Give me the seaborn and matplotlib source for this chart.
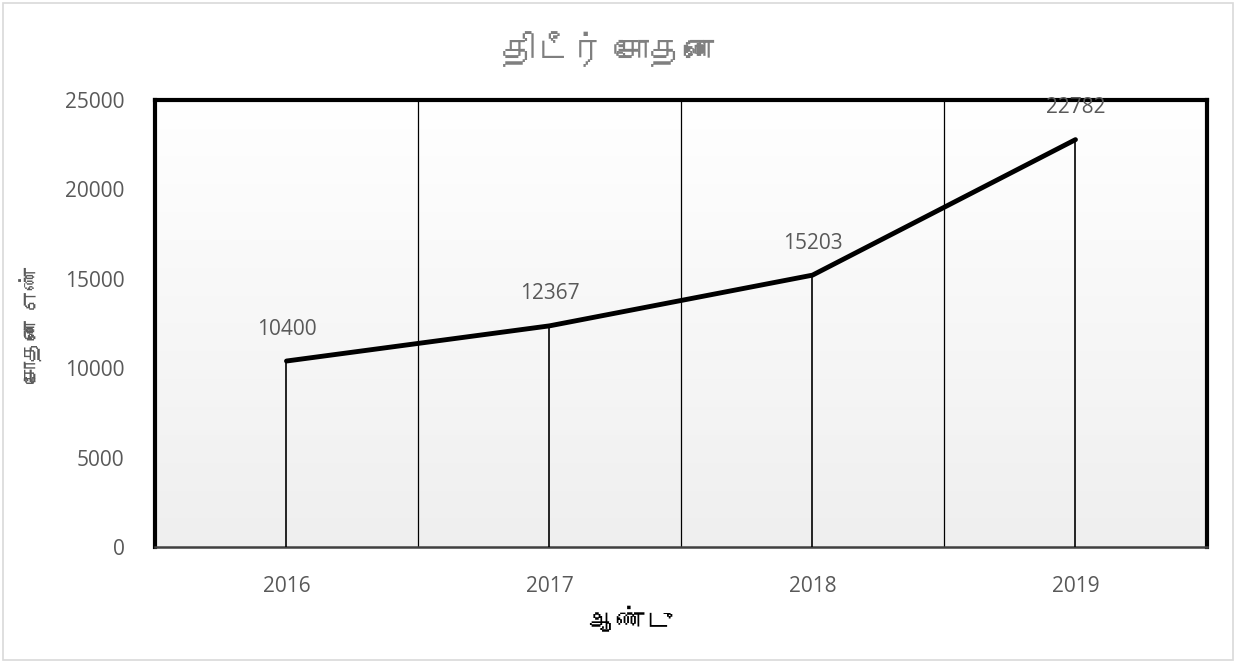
import numpy as np
import pandas as pd
import seaborn as sns
import matplotlib.pyplot as plt
from matplotlib import font_manager
from matplotlib.ft2font import FT2Font
from matplotlib.colors import LinearSegmentedColormap
from matplotlib.patches import Rectangle

# data
years = ["2016", "2017", "2018", "2019"]
raids = [10400, 12367, 15203, 22782]
yticks = [0, 5000, 10000, 15000, 20000, 25000]

title = "திடீர் சோதனை"
xlabel = "ஆண்டு"
ylabel = "சோதனை எண்"

df = pd.DataFrame({"year": years, "raids": raids})


def find_tamil_font():
    # look for any installed font that has Tamil glyphs
    for f in font_manager.fontManager.ttflist:
        try:
            if 0x0BA4 in FT2Font(f.fname).get_charmap():
                return f.name
        except Exception:
            pass
    return None


sns.set_theme(style="white")
tamil = find_tamil_font()
fams = ["Open Sans"] + ([tamil] if tamil else []) + ["DejaVu Sans"]
plt.rcParams["font.family"] = fams

fig = plt.figure(figsize=(12.36, 6.63), dpi=100)
ax = fig.add_axes([0.1254, 0.175, 0.8511, 0.6742])

# light grey gradient behind the plot
grad = np.linspace(1.0, 0.0, 256).reshape(-1, 1)
ax.imshow(grad, extent=[0, 1, 0, 1], transform=ax.transAxes, aspect="auto",
          cmap=LinearSegmentedColormap.from_list("g", ["#efefef", "#ffffff"]),
          zorder=0)

pos = np.arange(len(years))
sns.lineplot(x=pos, y=df["raids"], color="black", lw=3.5, ax=ax, zorder=4,
             solid_capstyle="round")

# drop lines and category separators
ax.vlines(pos, 0, df["raids"], color="black", lw=1.2, zorder=3)
ax.vlines(pos[:-1] + 0.5, 0, 25000, color="black", lw=0.9, zorder=2)

for x, v in zip(pos, raids):
    ax.annotate(str(v), (x, v), xytext=(0, 23), textcoords="offset points",
                ha="center", va="center", fontsize=15, color="#595959")

ax.set_xlim(-0.5, len(years) - 0.5)
ax.set_ylim(0, 25000)
ax.set_xticks(pos)
ax.set_xticklabels(years)
ax.set_yticks(yticks)
ax.set_yticklabels([str(t) for t in yticks])
ax.tick_params(axis="both", length=0, labelsize=15, labelcolor="#595959")
ax.tick_params(axis="x", pad=21)
ax.tick_params(axis="y", pad=22)
ax.set_xlabel("")
ax.set_ylabel("")

for s in ["top", "left", "right"]:
    ax.spines[s].set_color("black")
    ax.spines[s].set_linewidth(3)
ax.spines["bottom"].set_color("#404040")
ax.spines["bottom"].set_linewidth(1.8)

fig.text(610 / 1236, 1 - 52 / 663, title, ha="center", va="center",
         fontsize=25, color="#7f7f7f")
fig.text(631 / 1236, 1 - 623 / 663, xlabel, ha="center", va="center",
         fontsize=20, color="black")
fig.text(33 / 1236, 1 - 325 / 663, ylabel, ha="center", va="center",
         rotation=90, fontsize=16, color="#595959")

# chart area border
fig.patches.append(Rectangle((3 / 1236, 3 / 663), 1 - 6 / 1236, 1 - 6 / 663,
                             transform=fig.transFigure, fill=False,
                             edgecolor="#d9d9d9", lw=1.2))

fig.savefig("out.png", dpi=100)
